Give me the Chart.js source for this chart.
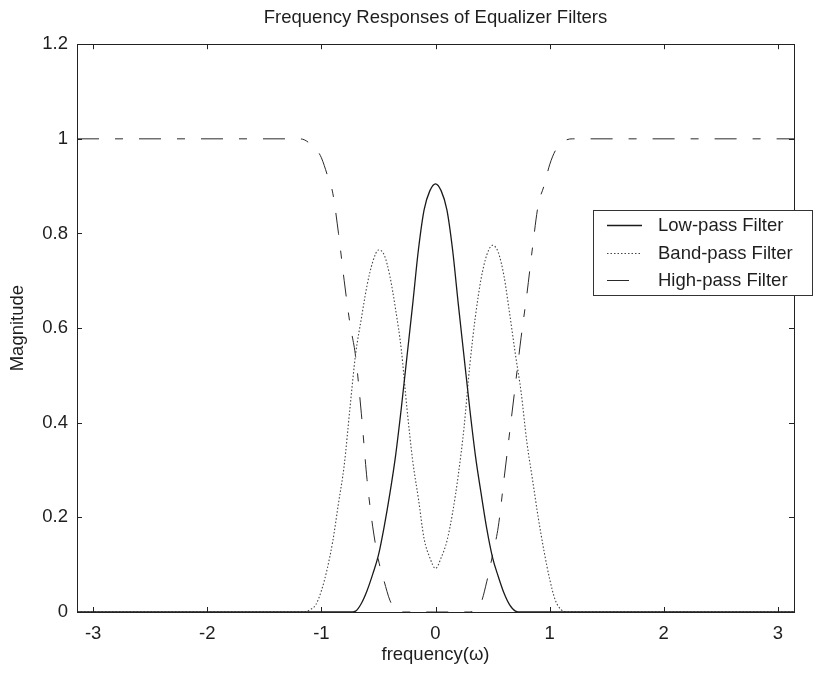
<!DOCTYPE html>
<html>
<head>
<meta charset="utf-8">
<script src="https://cdn.jsdelivr.net/npm/chart.js@4/dist/chart.umd.min.js"></script>
<style>
html, body { margin: 0; padding: 0; background: #ffffff; }
#wrap { width: 821px; height: 676px; position: relative; }
</style>
</head>
<body>
<div id="wrap"><canvas id="c" width="821" height="676"></canvas></div>
<script>
// ---- data ----
const freq = [-3.1416,
  -1.2, -1.15, -1.1, -1.05, -1.0, -0.95, -0.9, -0.85, -0.8, -0.75,
  -0.7, -0.65, -0.6, -0.55, -0.5, -0.45, -0.4, -0.35, -0.3, -0.25,
  -0.2, -0.15, -0.1, -0.05, 0, 0.05, 0.1, 0.15, 0.2, 0.25,
  0.3, 0.35, 0.4, 0.45, 0.5, 0.55, 0.6, 0.65, 0.7, 0.75,
  0.8, 0.85, 0.9, 0.95, 1.0, 1.05, 1.1, 1.15, 1.2,
  3.1416];

const lowPass = [0,
  0, 0, 0, 0, 0, 0, 0, 0, 0, 0,
  0.002, 0.018, 0.045, 0.08, 0.12, 0.18, 0.25, 0.33, 0.43, 0.54,
  0.65, 0.765, 0.85, 0.89, 0.905, 0.89, 0.85, 0.765, 0.65, 0.54,
  0.43, 0.33, 0.25, 0.175, 0.115, 0.075, 0.04, 0.015, 0.002, 0,
  0, 0, 0, 0, 0, 0, 0, 0, 0,
  0];

const bandPass = [0,
  0, 0, 0.005, 0.015, 0.045, 0.09, 0.15, 0.23, 0.31, 0.43,
  0.545, 0.62, 0.69, 0.74, 0.765, 0.755, 0.71, 0.64, 0.555, 0.43,
  0.32, 0.24, 0.155, 0.115, 0.092, 0.115, 0.15, 0.21, 0.29, 0.39,
  0.52, 0.625, 0.705, 0.755, 0.775, 0.76, 0.71, 0.63, 0.545, 0.465,
  0.36, 0.28, 0.2, 0.13, 0.07, 0.025, 0.005, 0, 0,
  0];

const highPass = [1,
  1, 0.998, 0.99, 0.98, 0.96, 0.925, 0.885, 0.8, 0.7, 0.61,
  0.54, 0.42, 0.28, 0.18, 0.11, 0.065, 0.025, 0.005, 0, 0,
  0, 0, 0, 0, 0, 0, 0, 0, 0, 0,
  0, 0.005, 0.02, 0.065, 0.12, 0.18, 0.28, 0.38, 0.48, 0.58,
  0.67, 0.77, 0.86, 0.9, 0.945, 0.975, 0.99, 0.998, 1,
  1];

const seriesNames = ['Low-pass Filter', 'Band-pass Filter', 'High-pass Filter'];
const xTicks = [-3, -2, -1, 0, 1, 2, 3];
const yTicks = [0, 0.2, 0.4, 0.6, 0.8, 1, 1.2];
const titleText = 'Frequency Responses of Equalizer Filters';
const xTitle = 'frequency(\u03c9)';
const yTitle = 'Magnitude';

// ---- chart ----
const FONT = '"Liberation Sans", Arial, Helvetica, sans-serif';
const INK = '#1e1e1e';

function pts(vals) { return freq.map((f, i) => ({ x: f, y: vals[i] })); }

const framePlugin = {
  id: 'frameAndLegend',
  afterDatasetsDraw(chart) {
    const { ctx, chartArea: a, scales } = chart;
    const x = scales.x, y = scales.y;
    ctx.save();
    ctx.strokeStyle = '#222';
    ctx.lineWidth = 1;
    ctx.setLineDash([]);
    ctx.strokeRect(Math.round(a.left) + 0.5, Math.round(a.top) + 0.5,
      Math.round(a.right - a.left), Math.round(a.bottom - a.top));
    const tl = 5;
    ctx.beginPath();
    xTicks.forEach(v => {
      const px = Math.round(x.getPixelForValue(v)) + 0.5;
      ctx.moveTo(px, a.bottom); ctx.lineTo(px, a.bottom - tl);
      ctx.moveTo(px, a.top); ctx.lineTo(px, a.top + tl);
    });
    yTicks.forEach(v => {
      const py = Math.round(y.getPixelForValue(v)) + 0.5;
      ctx.moveTo(a.left, py); ctx.lineTo(a.left + tl, py);
      ctx.moveTo(a.right, py); ctx.lineTo(a.right - tl, py);
    });
    ctx.stroke();

    // legend box
    const bx = 593, by = 210, bw = 219, bh = 85;
    ctx.fillStyle = '#ffffff';
    ctx.fillRect(bx, by, bw, bh);
    ctx.strokeStyle = '#333';
    ctx.strokeRect(bx + 0.5, by + 0.5, bw, bh);
    ctx.font = '18.5px ' + FONT;
    ctx.textBaseline = 'middle';
    ctx.textAlign = 'left';
    chart.data.datasets.forEach((ds, i) => {
      const ry = by + 15 + i * 27.5;
      ctx.save();
      ctx.strokeStyle = ds.borderColor;
      ctx.lineWidth = ds.borderWidth;
      ctx.setLineDash(ds.borderDash || []);
      ctx.beginPath();
      ctx.moveTo(607, Math.round(ry) + 0.5);
      ctx.lineTo(642, Math.round(ry) + 0.5);
      ctx.stroke();
      ctx.restore();
      ctx.fillStyle = INK;
      ctx.fillText(ds.label, 658, ry + 1);
    });
    ctx.restore();
  }
};

new Chart(document.getElementById('c'), {
  type: 'line',
  data: {
    datasets: [
      { label: seriesNames[0], data: pts(lowPass), borderColor: '#1a1a1a', borderWidth: 1.3,
        borderDash: [], pointRadius: 0, cubicInterpolationMode: 'monotone', fill: false },
      { label: seriesNames[1], data: pts(bandPass), borderColor: '#444444', borderWidth: 1.1,
        borderDash: [1.5, 2], pointRadius: 0, cubicInterpolationMode: 'monotone', fill: false },
      { label: seriesNames[2], data: pts(highPass), borderColor: '#2a2a2a', borderWidth: 1,
        borderDash: [22, 16, 8, 16], pointRadius: 0, cubicInterpolationMode: 'monotone', fill: false }
    ]
  },
  options: {
    responsive: false,
    animation: false,
    devicePixelRatio: 1,
    layout: { padding: { left: 0, right: 27, top: 0, bottom: 0 } },
    plugins: {
      legend: { display: false },
      tooltip: { enabled: false },
      title: {
        display: true, text: titleText, color: INK, fullSize: false,
        font: { family: FONT, size: 18.5, weight: 'normal' },
        padding: { top: 7, bottom: 15 }
      }
    },
    scales: {
      x: {
        type: 'linear', min: -Math.PI, max: Math.PI,
        grid: { display: false, drawTicks: false },
        border: { display: false },
        afterBuildTicks: s => { s.ticks = xTicks.map(v => ({ value: v })); },
        afterFit: s => { s.height = 64; },
        ticks: { color: INK, font: { family: FONT, size: 18.5 }, padding: 11,
          maxRotation: 0, autoSkip: false, callback: v => String(v) },
        title: { display: true, text: xTitle, color: INK,
          font: { family: FONT, size: 18.5 }, padding: { top: 0, bottom: 10 } }
      },
      y: {
        type: 'linear', min: 0, max: 1.2,
        grid: { display: false, drawTicks: false },
        border: { display: false },
        afterBuildTicks: s => { s.ticks = yTicks.map(v => ({ value: v })); },
        afterFit: s => { s.width = 77; },
        ticks: { color: INK, font: { family: FONT, size: 18.5 }, padding: 9,
          autoSkip: false, callback: v => String(v) },
        title: { display: true, text: yTitle, color: INK,
          font: { family: FONT, size: 18.5 }, padding: { top: 7, bottom: 0 } }
      }
    }
  },
  plugins: [framePlugin]
});
</script>
</body>
</html>
